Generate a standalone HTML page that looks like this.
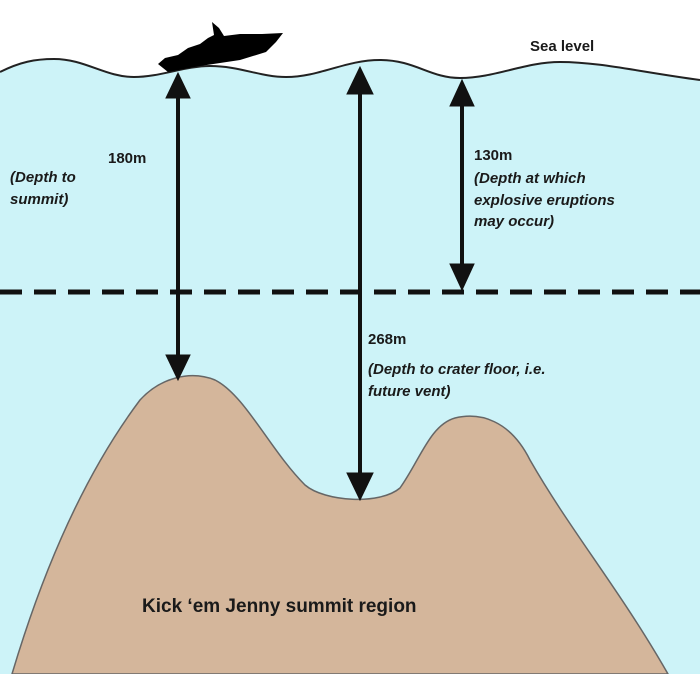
<!DOCTYPE html>
<html><head><style>
body{margin:0;background:#fff}
svg{display:block}
text{font-family:"Liberation Sans",Arial,sans-serif;font-weight:bold;fill:#1a1a1a}
.i{font-style:italic}
</style></head><body>
<svg width="700" height="674" viewBox="0 0 700 674" xmlns="http://www.w3.org/2000/svg">
<defs><path id="w" d="M0,72 C20,62 35,59 54,59 C85,59 105,77 134,77 C160,77 185,66 210,66 C240,66 260,77 286,77 C320,77 345,60 380,60 C415,60 430,78 460,78 C495,78 525,62 560,62 C600,62 640,72 700,80"/></defs>
<path d="M0,72 C20,62 35,59 54,59 C85,59 105,77 134,77 C160,77 185,66 210,66 C240,66 260,77 286,77 C320,77 345,60 380,60 C415,60 430,78 460,78 C495,78 525,62 560,62 C600,62 640,72 700,80 L700,674 L0,674 Z" fill="#cdf3f8"/>
<use href="#w" fill="none" stroke="#222" stroke-width="2"/>
<path d="M12,674 C40,580 80,480 140,400 C160,378 190,370 215,380 C245,395 270,450 305,485 C325,502 380,505 400,488 C420,460 430,425 455,418 C480,412 510,420 530,460 C570,530 620,590 668,674 Z" fill="#d4b69b" stroke="#666" stroke-width="1.5"/>
<line x1="0" y1="292" x2="700" y2="292" stroke="#111" stroke-width="5" stroke-dasharray="22,12"/>
<g fill="#111" stroke="#111">
<line x1="178" y1="95" x2="178" y2="360" stroke-width="4"/>
<polygon points="178,73 166,98 190,98"/><polygon points="178,380 166,355 190,355"/>
<line x1="360" y1="90" x2="360" y2="478" stroke-width="4"/>
<polygon points="360,67 347,94 373,94"/><polygon points="360,500 347,473 373,473"/>
<line x1="462" y1="100" x2="462" y2="268" stroke-width="4"/>
<polygon points="462,80 450,106 474,106"/><polygon points="462,290 450,264 474,264"/>
</g>
<path d="M158,64 L165,58 L178,55 L188,48 L200,44 L208,38 L214,35 L212,22 L219,28 L224,36 L240,34 L262,34 L283,33 L276,42 L266,52 L240,60 L200,66 L168,72 Z" fill="#000"/>
<text x="530" y="51" font-size="15">Sea level</text>
<text x="108" y="163" font-size="15">180m</text>
<text x="10" y="182" font-size="15" class="i">(Depth to</text>
<text x="10" y="204" font-size="15" class="i">summit)</text>
<text x="474" y="160" font-size="15">130m</text>
<text x="474" y="183" font-size="15" class="i">(Depth at which</text>
<text x="474" y="205" font-size="15" class="i">explosive eruptions</text>
<text x="474" y="226" font-size="15" class="i">may occur)</text>
<text x="368" y="344" font-size="15">268m</text>
<text x="368" y="374" font-size="15" class="i">(Depth to crater floor, i.e.</text>
<text x="368" y="396" font-size="15" class="i">future vent)</text>
<text x="142" y="612" font-size="19">Kick ‘em Jenny summit region</text>
</svg>
</body></html>
